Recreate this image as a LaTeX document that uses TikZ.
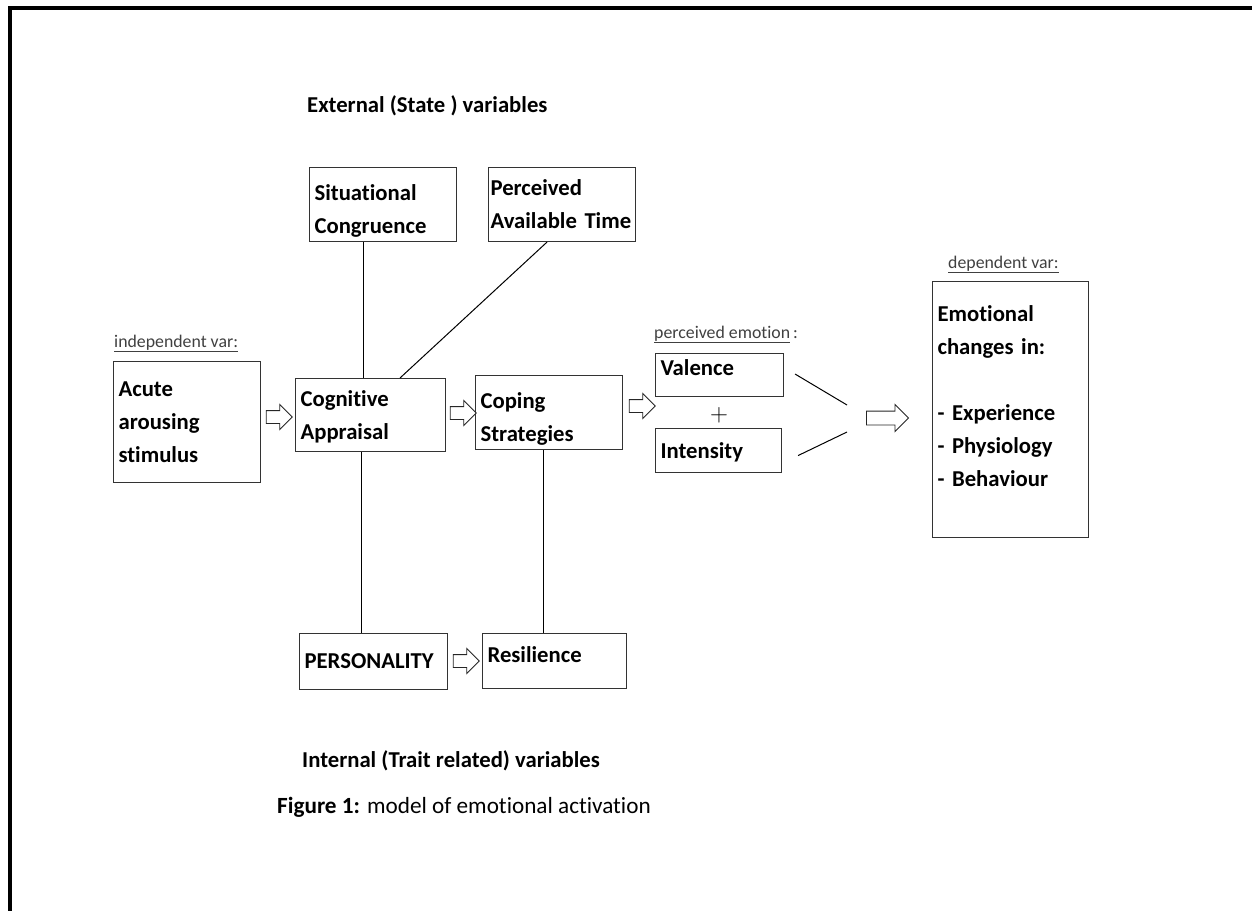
\documentclass[tikz,border=0pt]{standalone}
\usepackage{fontspec}
\setmainfont{Carlito}[Ligatures=NoCommon]
\usetikzlibrary{positioning,shapes.arrows}

\tikzset{
  box/.style={draw=black!80, line width=1.1pt, anchor=north west, align=left,
    inner xsep=5pt, inner ysep=0pt, font=\fontsize{22.7}{33}\selectfont\bfseries},
  hollow/.style={draw=black!85, fill=white, line width=0.9pt, shape=single arrow,
    single arrow head extend=6pt, inner xsep=0pt, inner ysep=6pt, minimum height=26pt},
  tag/.style={anchor=base west, text=black!75, inner sep=0pt, font=\fontsize{17.8}{20}\selectfont},
  head/.style={anchor=base west, inner sep=0pt, font=\fontsize{22.7}{26}\selectfont\bfseries},
  link/.style={draw=black, line width=1pt}
}

\begin{document}
\begin{tikzpicture}[x=1pt, y=-1pt]
        \useasboundingbox (0,0) rectangle (1252,910);
        % Frame
        \draw[line width=4.5pt] (10,930) -- (10,8) -- (1270,8);

        % Headings
        \node[head] (ext) at (307,112) {External (State ) variables};
        \node[head] (int) at (302,767) {Internal (Trait related) variables};
        \node[anchor=base west, inner sep=0pt, font=\fontsize{23.2}{26}\selectfont] (cap) at (277,813)
            {\textbf{Figure 1:} model of emotional activation};

        % Nodes
        \node[box, text width=137pt, text height=33pt, text depth=41pt] (sit) at (309,167) {Situational\\Congruence};
        \node[box, inner xsep=2pt, text width=143pt, text height=28pt, text depth=46pt] (perc) at (488,167) {Perceived\\Available Time};
        \node[box, text width=137pt, text height=35pt, text depth=86pt] (acute) at (113,361) {Acute\\arousing\\stimulus};
        \node[box, text width=140pt, text height=28pt, text depth=45pt] (cog) at (295,378) {Cognitive\\Appraisal};
        \node[box, text width=137pt, text height=33pt, text depth=41pt] (cop) at (475,375) {Coping\\Strategies};
        \node[box, text width=118pt, text height=22pt, text depth=21pt] (val) at (655,353) {Valence};
        \node[box, text width=116pt, text height=30pt, text depth=14pt] (inty) at (655,428) {Intensity};
        \node[box, text width=138pt, text height=35pt, text depth=21pt] (pers) at (299,633) {PERSONALITY};
        \node[box, text width=134pt, text height=29pt, text depth=26pt] (res) at (482,633) {Resilience};
        \node[box, text width=146pt, text height=40pt, text depth=216pt] (emo) at (932,281)
            {Emotional\\changes in:\\[33pt]- Experience\\- Physiology\\- Behaviour};

        % Small labels
        \node[tag] (indep) at (114,347) {\underline{independent var:}};
        \node[tag] (perem) at (654,338) {\underline{perceived emotion}\,:};
        \node[tag] (dep) at (948,268) {\underline{dependent var:}};
        \node[inner sep=0pt, font=\fontsize{40}{40}\selectfont] (plus) at (719,415) {$+$};

        % Hollow arrows
        \node[hollow] (arrA) at (276,417) {};
        \node[hollow] (arrB) at (460,413) {};
        \node[hollow] (arrC) at (639,406) {};
        \node[hollow] (arrE) at (463,661) {};
        \node[hollow, minimum height=42pt, inner ysep=6.5pt, single arrow head extend=6.5pt] (arrD) at (884,418) {};

        % Links
        \draw[link] (sit.south -| 363,0) -- (cog.north -| 363,0);
        \draw[link] (perc.south -| 547,0) -- (cog.north -| 400,0);
        \draw[link] (cog.south -| 361,0) -- (pers.north -| 361,0);
        \draw[link] (cop.south -| 543,0) -- (res.north -| 543,0);

        % Valence + Intensity merge
        \coordinate (mrgTop) at (847,405);
        \coordinate (mrgBot) at (847,432);
        \draw[link] ([shift={(11,-1)}]val.east) -- (mrgTop);
        \draw[link] ([shift={(16,5)}]inty.east) -- (mrgBot);
\end{tikzpicture}
\end{document}
